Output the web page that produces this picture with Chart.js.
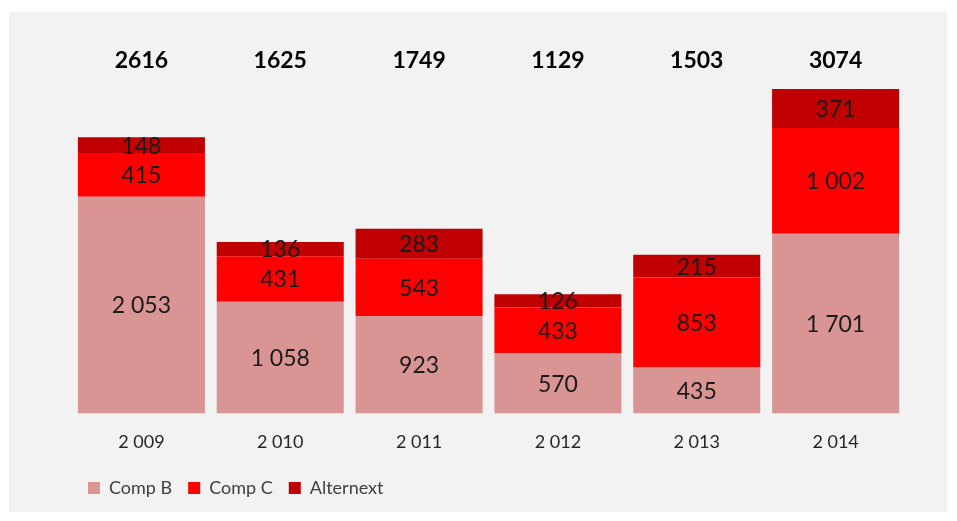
<!DOCTYPE html>
<html>
<head>
<meta charset="utf-8">
<script src="https://cdn.jsdelivr.net/npm/chart.js@4.4.1/dist/chart.umd.min.js"></script>
<style>
  html, body { margin: 0; padding: 0; background: #ffffff; }
  #wrap { width: 957px; height: 521px; position: relative; }
</style>
</head>
<body>
<div id="wrap"><canvas id="myChart"></canvas></div>
<script>
var years = ['2 009', '2 010', '2 011', '2 012', '2 013', '2 014'];
var compB = [2053, 1058, 923, 570, 435, 1701];
var compC = [415, 431, 543, 433, 853, 1002];
var alternext = [148, 136, 283, 126, 215, 371];
var totals = [2616, 1625, 1749, 1129, 1503, 3074];

var fontName = 'Lato, "Open Sans", sans-serif';

// nombre avec espace des milliers : 2053 -> "2 053"
function fmt(v) {
    return String(v).replace(/\B(?=(\d{3})+(?!\d))/g, ' ');
}

// fond gris du graphique
var panelPlugin = {
    id: 'panel',
    beforeDraw: function (chart) {
        var ctx = chart.ctx;
        ctx.save();
        ctx.fillStyle = '#f2f2f2';
        ctx.fillRect(9, 12, 938, 500);
        ctx.restore();
    }
};

// étiquettes dans les segments + totaux au-dessus
var labelPlugin = {
    id: 'labels',
    afterDatasetsDraw: function (chart) {
        var ctx = chart.ctx;
        ctx.save();
        ctx.textAlign = 'center';
        ctx.textBaseline = 'middle';
        ctx.font = '23px ' + fontName;
        ctx.fillStyle = '#1a1a1a';
        chart.data.datasets.forEach(function (ds, i) {
            var meta = chart.getDatasetMeta(i);
            meta.data.forEach(function (bar, j) {
                var mid = (bar.y + bar.base) / 2;
                ctx.fillText(fmt(ds.data[j]), bar.x, mid + 1);
            });
        });
        ctx.font = 'bold 23px ' + fontName;
        ctx.fillStyle = '#000000';
        var meta0 = chart.getDatasetMeta(0);
        meta0.data.forEach(function (bar, j) {
            ctx.fillText(String(totals[j]), bar.x, chart.chartArea.top + 17);
        });
        ctx.restore();
    }
};

var ctx = document.getElementById('myChart').getContext('2d');

var myChart = new Chart(ctx, {
    type: 'bar',
    data: {
        labels: years,
        datasets: [
            { label: 'Comp B', data: compB, backgroundColor: '#d99594', borderWidth: 0 },
            { label: 'Comp C', data: compC, backgroundColor: '#ff0000', borderWidth: 0 },
            { label: 'Alternext', data: alternext, backgroundColor: '#c00000', borderWidth: 0 }
        ]
    },
    options: {
        responsive: true,
        maintainAspectRatio: false,
        animation: false,
        layout: { padding: { left: 72, right: 52, top: 44, bottom: 14 } },
        datasets: {
            bar: { categoryPercentage: 0.915, barPercentage: 1 }
        },
        scales: {
            x: {
                stacked: true,
                grid: { display: false },
                border: { display: false },
                ticks: { color: '#262626', font: { family: fontName, size: 18 }, padding: 10 }
            },
            y: {
                stacked: true,
                display: false,
                min: 0,
                max: 3500
            }
        },
        plugins: {
            legend: {
                position: 'bottom',
                align: 'start',
                labels: {
                    boxWidth: 12,
                    boxHeight: 12,
                    padding: 16,
                    color: '#404040',
                    font: { family: fontName, size: 18 }
                }
            },
            tooltip: { enabled: false }
        }
    },
    plugins: [panelPlugin, labelPlugin]
});
</script>
</body>
</html>
